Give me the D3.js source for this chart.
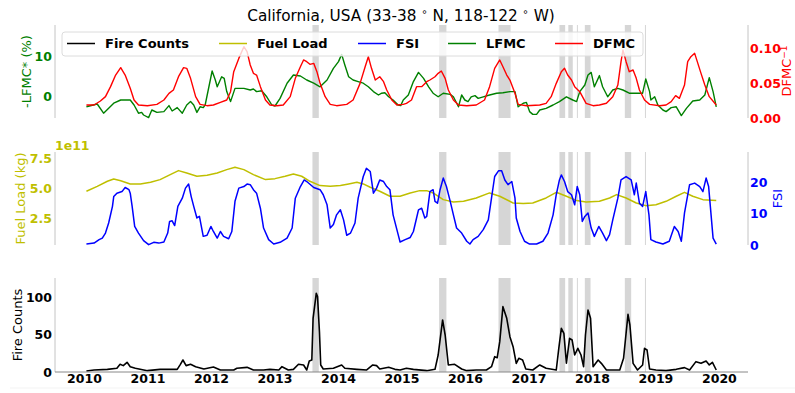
<!DOCTYPE html>
<html>
<head>
<meta charset="utf-8">
<script src="https://cdn.jsdelivr.net/npm/d3@7"></script>
<style>
  body { margin: 0; background: #fff; }
  svg text { font-family: "DejaVu Sans", sans-serif; }
</style>
</head>
<body>
<svg id="chart" width="795" height="393"></svg>
<script>
// Data ([decimal year, value])
const lfmc = [
  [2010.03,-2.7],[2010.20,-2.0],[2010.30,-4.3],[2010.46,-1.8],[2010.57,-1.0],[2010.72,-1.0],[2010.78,-2.25],
  [2010.85,-4.3],[2010.90,-4.1],[2010.93,-4.75],[2011.01,-5.4],[2011.06,-3.5],[2011.14,-4.1],[2011.25,-3.9],
  [2011.33,-2.4],[2011.38,-3.75],[2011.46,-2.9],[2011.54,-4.3],[2011.61,-2.25],[2011.67,-1.4],[2011.72,-2.25],
  [2011.77,-4.1],[2011.82,-2.7],[2011.87,-2.9],[2011.90,-2.25],[2012.01,6.25],[2012.06,4.0],[2012.09,2.3],
  [2012.16,4.8],[2012.20,4.4],[2012.24,1.1],[2012.30,-1.4],[2012.37,1.9],[2012.51,1.9],[2012.61,1.5],
  [2012.66,1.75],[2012.71,1.1],[2012.79,1.3],[2012.87,-0.2],[2012.95,-2.25],[2013.00,-2.5],[2013.08,-0.6],
  [2013.19,3.2],[2013.29,5.25],[2013.40,5.0],[2013.50,4.0],[2013.61,3.2],[2013.71,2.3],[2013.82,4.0],
  [2013.92,6.9],[2014.00,8.6],[2014.05,10.4],[2014.10,7.75],[2014.16,4.8],[2014.23,4.0],[2014.31,3.6],
  [2014.39,3.2],[2014.47,2.3],[2014.55,1.1],[2014.63,0.25],[2014.68,0.7],[2014.73,0.8],[2014.79,-0.2],
  [2014.86,-1.0],[2014.94,-2.25],[2014.98,-2.4],[2015.02,-1.0],[2015.10,0.25],[2015.18,3.6],[2015.26,5.9],
  [2015.34,4.4],[2015.42,2.3],[2015.49,0.7],[2015.57,-0.2],[2015.65,0.7],[2015.76,0.4],[2015.81,-0.2],
  [2015.89,-2.7],[2015.94,0.25],[2015.99,-1.0],[2016.04,-1.4],[2016.09,-0.2],[2016.15,0.1],[2016.20,-0.6],
  [2016.28,-0.2],[2016.38,0.25],[2016.49,0.7],[2016.59,0.8],[2016.70,1.1],[2016.78,1.1],[2016.83,-2.7],
  [2016.91,-1.8],[2016.96,-1.6],[2017.01,-3.9],[2017.06,-4.6],[2017.12,-4.6],[2017.17,-3.5],[2017.27,-3.1],
  [2017.38,-2.25],[2017.48,-1.4],[2017.59,-0.2],[2017.69,-1.0],[2017.75,-1.4],[2017.80,1.1],[2017.88,2.75],
  [2017.93,5.25],[2017.98,5.9],[2018.03,2.3],[2018.11,5.1],[2018.16,2.3],[2018.24,-0.2],[2018.32,1.5],
  [2018.40,1.9],[2018.48,1.5],[2018.58,0.7],[2018.69,0.7],[2018.79,0.7],[2018.84,4.25],[2018.90,1.1],
  [2018.92,-1.0],[2018.98,-0.2],[2019.03,-2.25],[2019.11,-3.5],[2019.16,-3.9],[2019.24,-2.9],[2019.32,-2.7],
  [2019.40,-4.9],[2019.48,-3.1],[2019.58,-1.25],[2019.69,-1.0],[2019.77,0.25],[2019.84,4.6],[2019.90,1.1],
  [2019.95,-2.7]
];

const dfmc = [
  [2010.03,0.0186],[2010.15,0.0186],[2010.25,0.0243],[2010.33,0.0305],[2010.41,0.0448],[2010.49,0.0614],
  [2010.57,0.0719],[2010.64,0.0614],[2010.72,0.0424],[2010.78,0.0257],[2010.85,0.0186],[2010.99,0.0176],
  [2011.14,0.0195],[2011.25,0.0257],[2011.33,0.0352],[2011.40,0.0400],[2011.48,0.0590],[2011.56,0.0719],
  [2011.61,0.0710],[2011.67,0.0567],[2011.75,0.0305],[2011.82,0.0195],[2011.93,0.0176],[2012.03,0.0186],
  [2012.14,0.0224],[2012.24,0.0257],[2012.30,0.0376],[2012.35,0.0662],[2012.43,0.0852],[2012.51,0.1019],
  [2012.56,0.0948],[2012.61,0.0757],[2012.66,0.0638],[2012.71,0.0614],[2012.77,0.0448],[2012.85,0.0257],
  [2012.92,0.0186],[2013.03,0.0176],[2013.13,0.0186],[2013.24,0.0305],[2013.32,0.0567],[2013.40,0.0733],
  [2013.45,0.0829],[2013.50,0.0805],[2013.55,0.0767],[2013.61,0.0781],[2013.66,0.0662],[2013.71,0.0495],
  [2013.79,0.0305],[2013.87,0.0195],[2013.97,0.0176],[2014.13,0.0195],[2014.23,0.0257],[2014.34,0.0495],
  [2014.42,0.0733],[2014.47,0.0876],[2014.52,0.0710],[2014.58,0.0543],[2014.65,0.0590],[2014.71,0.0519],
  [2014.76,0.0400],[2014.84,0.0257],[2014.92,0.0186],[2015.02,0.0195],[2015.07,0.0210],[2015.15,0.0257],
  [2015.23,0.0448],[2015.31,0.0448],[2015.39,0.0519],[2015.44,0.0543],[2015.52,0.0590],[2015.57,0.0638],
  [2015.62,0.0671],[2015.68,0.0567],[2015.73,0.0400],[2015.81,0.0257],[2015.89,0.0186],[2016.02,0.0176],
  [2016.17,0.0186],[2016.30,0.0257],[2016.38,0.0448],[2016.46,0.0710],[2016.54,0.0829],[2016.59,0.0733],
  [2016.65,0.0614],[2016.70,0.0543],[2016.78,0.0352],[2016.83,0.0195],[2016.96,0.0176],[2017.17,0.0186],
  [2017.27,0.0210],[2017.35,0.0305],[2017.43,0.0495],[2017.51,0.0662],[2017.56,0.0710],[2017.61,0.0614],
  [2017.67,0.0543],[2017.72,0.0448],[2017.80,0.0376],[2017.90,0.0210],[2018.01,0.0176],[2018.11,0.0186],
  [2018.22,0.0210],[2018.32,0.0305],[2018.40,0.0471],[2018.45,0.0805],[2018.48,0.0971],[2018.53,0.0805],
  [2018.58,0.0662],[2018.64,0.0686],[2018.69,0.0567],[2018.74,0.0400],[2018.82,0.0257],[2018.90,0.0195],
  [2019.06,0.0176],[2019.16,0.0186],[2019.24,0.0233],[2019.31,0.0319],[2019.37,0.0281],[2019.45,0.0471],
  [2019.50,0.0805],[2019.55,0.0876],[2019.61,0.0924],[2019.66,0.0781],[2019.71,0.0638],[2019.77,0.0471],
  [2019.84,0.0305],[2019.95,0.0186]
];

// fuel load in units of 1e11 kg
const fuelLoad = [
  [2010.03,4.81],[2010.20,5.22],[2010.36,5.64],[2010.46,5.83],[2010.57,5.69],[2010.72,5.42],[2010.88,5.42],
  [2011.04,5.56],[2011.19,5.78],[2011.35,6.19],[2011.48,6.53],[2011.61,6.33],[2011.77,6.06],[2011.93,6.14],
  [2012.09,6.33],[2012.24,6.61],[2012.37,6.81],[2012.51,6.61],[2012.66,6.19],[2012.85,5.78],[2013.00,5.86],
  [2013.16,6.06],[2013.29,6.25],[2013.42,6.06],[2013.55,5.64],[2013.71,5.28],[2013.87,5.22],[2014.03,5.28],
  [2014.16,5.42],[2014.29,5.56],[2014.39,5.42],[2014.50,5.14],[2014.65,4.81],[2014.81,4.39],[2014.97,4.39],
  [2015.13,4.67],[2015.28,4.86],[2015.39,4.86],[2015.49,4.67],[2015.65,4.11],[2015.81,3.92],[2015.97,3.97],
  [2016.17,4.25],[2016.38,4.67],[2016.54,4.39],[2016.75,3.83],[2016.91,3.78],[2017.06,3.83],[2017.27,4.25],
  [2017.43,4.72],[2017.59,4.39],[2017.75,4.03],[2017.90,3.92],[2018.11,3.97],[2018.27,4.25],[2018.38,4.53],
  [2018.53,4.25],[2018.69,3.83],[2018.84,3.61],[2019.00,3.69],[2019.16,3.97],[2019.32,4.39],[2019.45,4.72],
  [2019.58,4.39],[2019.74,4.11],[2019.95,4.03]
];

const fsi = [
  [2010.03,0.3],[2010.15,0.6],[2010.23,1.7],[2010.28,2.2],[2010.33,3.8],[2010.38,7.0],[2010.44,12.3],
  [2010.46,15.4],[2010.51,16.5],[2010.59,17.0],[2010.64,18.3],[2010.70,17.6],[2010.72,16.5],[2010.75,12.3],
  [2010.79,5.9],[2010.85,3.8],[2010.93,1.4],[2011.01,0.1],[2011.09,0.85],[2011.17,0.6],[2011.25,0.95],
  [2011.31,3.8],[2011.34,7.5],[2011.38,7.7],[2011.42,6.2],[2011.47,12.3],[2011.54,14.9],[2011.59,18.1],
  [2011.64,19.4],[2011.68,15.4],[2011.72,12.3],[2011.77,8.6],[2011.81,9.1],[2011.87,2.75],[2011.93,3.1],
  [2011.99,5.9],[2012.03,4.3],[2012.09,2.2],[2012.14,4.3],[2012.19,2.75],[2012.27,2.0],[2012.32,4.3],
  [2012.37,13.9],[2012.43,18.1],[2012.51,18.6],[2012.56,19.4],[2012.61,19.2],[2012.66,17.6],[2012.71,16.5],
  [2012.77,11.7],[2012.82,5.4],[2012.90,1.7],[2012.98,0.3],[2013.08,0.85],[2013.19,2.2],[2013.27,5.4],
  [2013.32,14.9],[2013.40,18.6],[2013.46,20.7],[2013.50,20.2],[2013.61,18.3],[2013.71,17.6],[2013.76,16.0],
  [2013.82,12.8],[2013.87,5.4],[2013.92,6.5],[2013.97,9.6],[2014.03,11.2],[2014.08,8.0],[2014.13,3.1],
  [2014.19,3.8],[2014.26,7.0],[2014.31,14.9],[2014.39,21.8],[2014.44,24.4],[2014.50,23.4],[2014.55,16.5],
  [2014.60,18.1],[2014.65,20.7],[2014.71,20.2],[2014.76,18.6],[2014.81,17.6],[2014.86,9.6],[2014.94,3.3],
  [2014.97,0.95],[2015.05,1.7],[2015.13,2.4],[2015.18,4.3],[2015.23,8.6],[2015.26,11.2],[2015.31,11.7],
  [2015.36,8.6],[2015.39,9.1],[2015.44,17.0],[2015.49,17.6],[2015.52,13.9],[2015.56,13.3],[2015.60,17.6],
  [2015.65,21.3],[2015.70,18.6],[2015.76,13.9],[2015.81,9.6],[2015.86,5.4],[2015.94,3.8],[2016.02,1.2],
  [2016.07,0.3],[2016.12,1.7],[2016.20,2.75],[2016.28,4.9],[2016.36,8.0],[2016.41,14.9],[2016.46,21.8],
  [2016.52,23.6],[2016.57,23.6],[2016.62,20.7],[2016.67,19.2],[2016.73,20.2],[2016.78,14.9],[2016.80,8.6],
  [2016.86,4.3],[2016.93,1.2],[2017.01,0.3],[2017.12,0.3],[2017.22,1.2],[2017.30,3.8],[2017.38,9.6],
  [2017.43,16.0],[2017.48,20.7],[2017.51,22.3],[2017.56,20.2],[2017.61,17.0],[2017.67,16.0],[2017.72,12.8],
  [2017.76,18.6],[2017.80,16.0],[2017.84,7.5],[2017.88,9.1],[2017.93,10.2],[2017.98,5.4],[2018.03,2.75],
  [2018.10,5.9],[2018.16,3.8],[2018.22,1.4],[2018.27,3.3],[2018.32,8.0],[2018.40,14.9],[2018.45,20.7],
  [2018.53,21.8],[2018.61,20.7],[2018.66,16.0],[2018.69,19.7],[2018.74,13.3],[2018.79,12.3],[2018.84,17.0],
  [2018.89,9.6],[2018.92,1.7],[2019.00,0.95],[2019.11,0.3],[2019.21,1.2],[2019.29,5.9],[2019.35,4.3],
  [2019.40,1.2],[2019.45,10.2],[2019.53,19.2],[2019.61,19.7],[2019.69,18.6],[2019.74,17.0],[2019.79,21.3],
  [2019.83,18.6],[2019.90,2.2],[2019.95,0.3]
];

const fireCounts = [
  [2010.03,1.4],[2010.15,2.7],[2010.36,3.6],[2010.51,5.0],[2010.56,10.4],[2010.61,8.6],[2010.67,13.1],
  [2010.72,7.2],[2010.80,5.0],[2010.99,1.8],[2011.19,3.6],[2011.46,3.6],[2011.51,10.4],[2011.55,16.2],
  [2011.60,8.6],[2011.67,10.4],[2011.75,7.2],[2011.88,4.1],[2012.03,6.8],[2012.14,2.7],[2012.35,2.7],
  [2012.40,5.0],[2012.56,6.3],[2012.66,2.7],[2012.82,2.7],[2012.92,3.6],[2013.06,2.7],[2013.11,7.2],
  [2013.21,2.7],[2013.29,3.6],[2013.37,10.4],[2013.45,9.5],[2013.50,2.7],[2013.54,14.9],[2013.58,16.2],
  [2013.60,72.5],[2013.65,106.3],[2013.67,101.8],[2013.70,54.5],[2013.72,9.5],[2013.76,4.1],[2013.92,5.0],
  [2014.05,9.5],[2014.10,5.0],[2014.29,3.6],[2014.44,2.7],[2014.54,9.5],[2014.60,8.6],[2014.65,4.1],
  [2014.79,6.3],[2014.89,3.6],[2014.97,2.7],[2015.07,5.0],[2015.18,3.6],[2015.39,1.8],[2015.52,3.6],
  [2015.57,23.0],[2015.64,70.3],[2015.68,50.0],[2015.73,9.5],[2015.83,10.4],[2015.94,4.1],[2016.02,1.8],
  [2016.17,2.7],[2016.33,2.7],[2016.41,7.2],[2016.46,20.7],[2016.50,19.4],[2016.54,41.0],[2016.59,88.3],
  [2016.65,72.5],[2016.70,47.7],[2016.75,34.2],[2016.80,11.7],[2016.84,18.5],[2016.90,16.2],[2016.95,4.1],
  [2017.06,2.7],[2017.17,9.5],[2017.27,5.0],[2017.43,2.7],[2017.47,32.0],[2017.51,59.0],[2017.55,52.3],
  [2017.59,12.0],[2017.64,45.5],[2017.68,43.2],[2017.72,23.0],[2017.77,32.0],[2017.82,23.0],[2017.86,7.2],
  [2017.89,50.0],[2017.93,83.8],[2017.97,72.5],[2018.01,7.2],[2018.09,16.2],[2018.14,11.7],[2018.22,2.7],
  [2018.43,2.7],[2018.49,18.5],[2018.56,78.0],[2018.59,63.5],[2018.64,11.7],[2018.71,2.7],[2018.79,9.5],
  [2018.82,32.0],[2018.86,29.7],[2018.90,4.1],[2019.00,2.7],[2019.16,1.8],[2019.32,3.6],[2019.45,5.9],
  [2019.53,2.7],[2019.63,14.0],[2019.71,11.7],[2019.79,14.9],[2019.84,9.5],[2019.89,13.1],[2019.95,2.7]
];

// large fire periods (shaded)
const fireSeasons = [
  [2013.59,2013.69],[2015.585,2015.70],[2016.52,2016.71],[2017.48,2017.57],[2017.62,2017.69],
  [2017.755,2017.770],[2017.88,2017.97],[2018.51,2018.61],[2018.827,2018.842]
];

const yearTicks = [2010,2011,2012,2013,2014,2015,2016,2017,2018,2019,2020];
const lfmcTicks = [0, 10];
const dfmcTicks = [0.00, 0.05, 0.10];
const fuelTicks = [2.5, 5.0, 7.5];
const fsiTicks = [0, 10, 20];
const fireTicks = [0, 50, 100];

const legendItems = [
  { label: "Fire Counts", color: "#000000" },
  { label: "Fuel Load", color: "#bfbf00" },
  { label: "FSI", color: "#0000ff" },
  { label: "LFMC", color: "#008000" },
  { label: "DFMC", color: "#ff0000" }
];

// -----------------------------
const svg = d3.select("#chart");
const x = d3.scaleLinear().domain([2009.535, 2020.45]).range([55, 748]);

const panels = {
  top: [25, 118],
  mid: [152, 245],
  bot: [278, 372]
};

const yLfmc = d3.scaleLinear().domain([-5.5, 17.75]).range([panels.top[1], panels.top[0]]);
const yDfmc = d3.scaleLinear().domain([0, 0.1329]).range([panels.top[1], panels.top[0]]);
const yFuel = d3.scaleLinear().domain([0.33, 8.08]).range([panels.mid[1], panels.mid[0]]);
const yFsi = d3.scaleLinear().domain([0, 29.6]).range([panels.mid[1], panels.mid[0]]);
const yFire = d3.scaleLinear().domain([0, 127]).range([panels.bot[1], panels.bot[0]]);

const tickFont = { size: "12.5px", weight: "bold" };

// shaded fire periods in each panel
Object.values(panels).forEach(([y0, y1]) => {
  svg.append("g").selectAll("rect")
    .data(fireSeasons)
    .enter().append("rect")
    .attr("x", d => x(d[0]))
    .attr("width", d => Math.max(1, x(d[1]) - x(d[0])))
    .attr("y", y0)
    .attr("height", y1 - y0)
    .attr("fill", "#d6d6d6");
});

function drawLine(data, yScale, color, width) {
  const line = d3.line().x(d => x(d[0])).y(d => yScale(d[1]));
  svg.append("path")
    .datum(data)
    .attr("d", line)
    .attr("fill", "none")
    .attr("stroke", color)
    .attr("stroke-width", width)
    .attr("stroke-linejoin", "round");
}

drawLine(lfmc, yLfmc, "#008000", 1.4);
drawLine(dfmc, yDfmc, "#ff0000", 1.4);
drawLine(fuelLoad, yFuel, "#bfbf00", 1.5);
drawLine(fsi, yFsi, "#0000ff", 1.5);
drawLine(fireCounts, yFire, "#000000", 1.6);

// spines
function vSpine(xPos, [y0, y1]) {
  svg.append("line").attr("x1", xPos).attr("x2", xPos).attr("y1", y0).attr("y2", y1)
    .attr("stroke", "#c4c4c4").attr("stroke-width", 1);
}
vSpine(55, panels.top); vSpine(748, panels.top);
vSpine(55, panels.mid); vSpine(748, panels.mid);
vSpine(55, panels.bot);
svg.append("line").attr("x1", 55).attr("x2", 748).attr("y1", panels.bot[1]).attr("y2", panels.bot[1])
  .attr("stroke", "#888").attr("stroke-width", 1);
svg.append("line").attr("x1", 10).attr("x2", 795).attr("y1", 388).attr("y2", 388)
  .attr("stroke", "#f3f3f3").attr("stroke-width", 1);

// tick labels
function yTickLabels(ticks, scale, color, side, fmt) {
  svg.append("g").selectAll("text")
    .data(ticks)
    .enter().append("text")
    .attr("x", side === "left" ? 52 : 750)
    .attr("y", d => scale(d))
    .attr("dy", "0.36em")
    .attr("text-anchor", side === "left" ? "end" : "start")
    .attr("fill", color)
    .style("font-size", tickFont.size)
    .style("font-weight", tickFont.weight)
    .text(fmt);
}
yTickLabels(lfmcTicks, yLfmc, "#008000", "left", d3.format("d"));
yTickLabels(dfmcTicks, yDfmc, "#ff0000", "right", d3.format(".2f"));
yTickLabels(fuelTicks, yFuel, "#bfbf00", "left", d3.format(".1f"));
yTickLabels(fsiTicks, yFsi, "#0000ff", "right", d3.format("d"));
yTickLabels(fireTicks, yFire, "#000000", "left", d3.format("d"));

svg.append("g").selectAll("text")
  .data(yearTicks)
  .enter().append("text")
  .attr("x", d => x(d))
  .attr("y", 383)
  .attr("text-anchor", "middle")
  .style("font-size", tickFont.size)
  .style("font-weight", tickFont.weight)
  .text(d => d);

svg.append("text")
  .attr("x", 55).attr("y", 150)
  .attr("fill", "#bfbf00")
  .style("font-size", tickFont.size)
  .style("font-weight", "bold")
  .text("1e11");

// axis labels
function yLabel(cx, cy, color, build) {
  const t = svg.append("text")
    .attr("transform", `translate(${cx},${cy}) rotate(-90)`)
    .attr("text-anchor", "middle")
    .attr("dy", "0.36em")
    .attr("fill", color)
    .style("font-size", "13px");
  build(t);
}
yLabel(26, 71.5, "#008000", t => t.text("-LFMC* (%)"));
yLabel(20, 198.5, "#bfbf00", t => t.text("Fuel Load (kg)"));
yLabel(17, 325, "#000000", t => t.text("Fire Counts"));
yLabel(777, 198.5, "#0000ff", t => t.text("FSI"));
yLabel(786, 71, "#ff0000", t => {
  t.append("tspan").text("DFMC");
  t.append("tspan").attr("dy", "-0.45em").style("font-size", "9px").text("\u22121");
});

// title
const title = svg.append("text")
  .attr("x", 401).attr("y", 20.5)
  .attr("text-anchor", "middle")
  .style("font-size", "15.3px");
title.append("tspan").text("California, USA (33-38 ");
title.append("tspan").attr("dy", -6).style("font-size", "10px").text("\u2218");
title.append("tspan").attr("dy", 6).text(" N, 118-122 ");
title.append("tspan").attr("dy", -6).style("font-size", "10px").text("\u2218");
title.append("tspan").attr("dy", 6).text(" W)");

// legend
const legend = svg.append("g");
legend.append("rect")
  .attr("x", 62).attr("y", 32).attr("width", 581).attr("height", 24)
  .attr("rx", 3)
  .attr("fill", "#fff").attr("fill-opacity", 0.8)
  .attr("stroke", "#dcdcdc").attr("stroke-width", 1);

const legendX = [67, 219, 358, 448, 555];
legendItems.forEach((item, i) => {
  const lx = legendX[i];
  legend.append("line")
    .attr("x1", lx).attr("x2", lx + 28).attr("y1", 43.5).attr("y2", 43.5)
    .attr("stroke", item.color).attr("stroke-width", 1.5);
  legend.append("text")
    .attr("x", lx + 38).attr("y", 43.5).attr("dy", "0.36em")
    .style("font-size", "13px").style("font-weight", "bold")
    .text(item.label);
});
</script>
</body>
</html>
